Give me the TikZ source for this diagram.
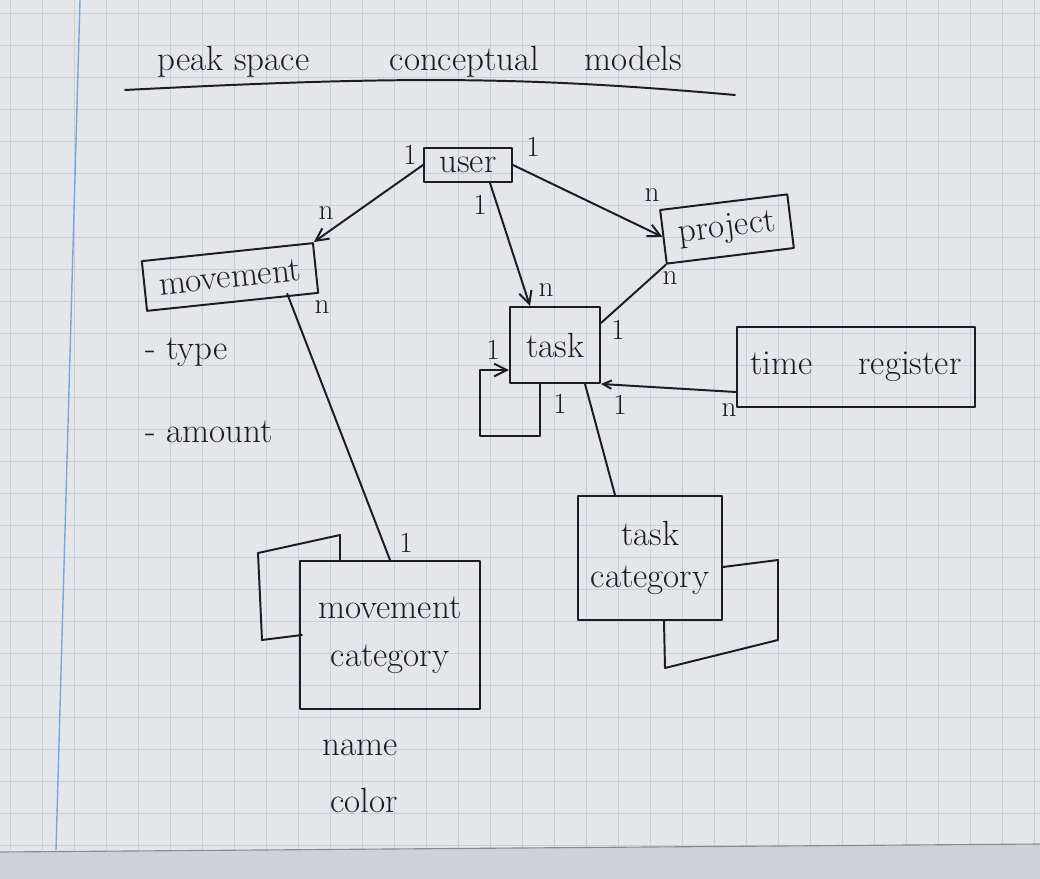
\documentclass[tikz,border=0pt]{standalone}
\usepackage{amsmath}
\usetikzlibrary{arrows.meta}
\definecolor{paper}{RGB}{228,230,234}
\definecolor{paperedge}{RGB}{206,209,215}
\definecolor{gridblue}{RGB}{198,207,220}
\definecolor{marginblue}{RGB}{125,165,215}
\definecolor{ink}{RGB}{28,28,34}

\begin{document}
\begin{tikzpicture}[x=0.025cm,y=-0.025cm,
    ink line/.style={draw=ink,line width=1.4pt,line cap=round,line join=round},
    entity/.style={ink line,inner sep=0pt,font=\Huge,text=ink,align=center},
    card/.style={font=\huge,text=ink,inner sep=1pt},
    attr/.style={font=\Huge,text=ink,anchor=west,inner sep=0pt},
    link/.style={ink line},
    arrowlink/.style={ink line,-{Straight Barb[length=9pt,width=9pt]}}]
% Draw the paper
        \useasboundingbox (0,0) rectangle (1040,879);
        \fill[paper] (0,0) rectangle (1040,879);
        \fill[paperedge] (0,852) -- (1040,844) -- (1040,879) -- (0,879) -- cycle;
        \foreach \x in {10,42,...,1040}
          \draw[gridblue,line width=0.5pt] (\x,0) -- (\x,850);
        \foreach \y in {13,45,...,845}
          \draw[gridblue,line width=0.5pt] (0,\y) -- (1040,\y);
        \draw[marginblue,line width=1pt] (80,0) -- (56,850);
        \draw[black!45,line width=0.8pt] (0,852) -- (1040,844);

% Draw the title
        \node[font=\Huge,text=ink] (title) at (420,62) {peak space \qquad conceptual \quad models};
        \draw[ink line] (125,90) .. controls (400,76) and (520,76) .. (735,95);

% Draw the entities
        \node[entity,minimum width=2.2cm,minimum height=0.85cm] (user) at (468,165) {user};
        \node[entity,minimum width=3.2cm,minimum height=1.35cm,rotate=7] (project) at (727,229) {project};
        \node[entity,minimum width=4.3cm,minimum height=1.25cm,rotate=6] (movement) at (230,277) {movement};
        \node[entity,minimum width=2.25cm,minimum height=1.9cm] (task) at (555,345) {task};
        \node[entity,minimum width=5.95cm,minimum height=2cm] (timereg) at (856,367) {time \quad register};
        \node[entity,minimum width=3.6cm,minimum height=3.1cm] (tcat) at (650,558) {task\\category};
        \node[entity,minimum width=4.5cm,minimum height=3.7cm] (mcat) at (390,635) {movement\\[4pt]category};

% Draw the boxes behind the categories
        \draw[ink line] (302,635) -- (262,640) -- (258,553) -- (340,535) -- (340,561);
        \draw[ink line] (723,567) -- (778,560) -- (778,640) -- (665,668) -- (664,621);

% Draw the relations
        \draw[arrowlink] (user.west) -- (movement.north east);
        \draw[arrowlink] (user.east) -- (project.west);
        \draw[arrowlink] ([xshift=0.55cm]user.south) -- ([xshift=-0.625cm]task.north);
        \draw[link] (project.south west) -- ([yshift=0.55cm]task.east);
        \draw[link] ([xshift=-0.8cm]movement.south east) -- (mcat.north);
        \draw[link] ([xshift=0.75cm]task.south) -- ([xshift=-0.875cm]tcat.north);
        \draw[ink line,{Straight Barb[length=6pt,width=6pt]}-] (task.south east) -- ([yshift=-0.625cm]timereg.west);
        \draw[arrowlink] ([xshift=-0.375cm]task.south) -- ++(0,52) -- ++(-60,0)
          |- ([yshift=-0.625cm]task.west);

% Draw the cardinalities
        \node[card] (user-l) at (410,155) {1};
        \node[card] (user-r) at (533,147) {1};
        \node[card] (user-b) at (480,205) {1};
        \node[card] (movement-t) at (326,213) {n};
        \node[card] (movement-b) at (322,307) {n};
        \node[card] (project-t) at (652,195) {n};
        \node[card] (project-b) at (670,278) {n};
        \node[card] (task-t) at (546,290) {n};
        \node[card] (task-r) at (618,330) {1};
        \node[card] (task-l) at (493,350) {1};
        \node[card] (task-b) at (560,404) {1};
        \node[card] (task-br) at (620,405) {1};
        \node[card] (timereg-l) at (729,410) {n};
        \node[card] (mcat-t) at (406,543) {1};

% Draw the attributes
        \node[attr] (movement-type) at (145,352) {- type};
        \node[attr] (movement-amount) at (145,432) {- amount};
        \node[attr] (mcat-name) at (322,748) {name};
        \node[attr] (mcat-color) at (330,800) {color};
      \end{tikzpicture}
\end{document}
